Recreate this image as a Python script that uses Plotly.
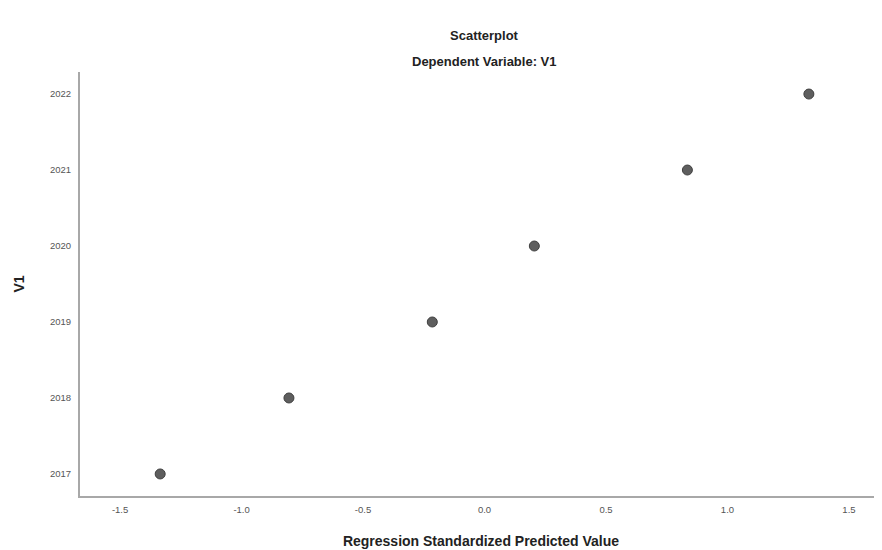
import plotly.graph_objects as go

pred_values = [-1.335, -0.805, -0.215, 0.205, 0.835, 1.335]
v1_values = [2017, 2018, 2019, 2020, 2021, 2022]
x_ticks = [-1.5, -1.0, -0.5, 0.0, 0.5, 1.0, 1.5]
x_tick_labels = ["-1.5", "-1.0", "-0.5", "0.0", "0.5", "1.0", "1.5"]
y_ticks = [2017, 2018, 2019, 2020, 2021, 2022]
y_tick_labels = ["2017", "2018", "2019", "2020", "2021", "2022"]

# page body has an 8px margin, so the figure is slightly smaller than the window
W, H = 874, 542
ML, MR, MT, MB = 72, 0, 64, 54
plot_h = H - MT - MB
plot_w = W - ML - MR

def py(pix_y):
    return 1 + (MT - pix_y) / plot_h

center_x = (476 - ML) / plot_w

fig = go.Figure(go.Scatter(
    x=pred_values, y=v1_values, mode="markers",
    marker=dict(size=10, color="#5e5e5e", line=dict(color="#404040", width=1)),
))

fig.update_layout(
    width=W, height=H,
    margin=dict(l=ML, r=MR, t=MT, b=MB),
    paper_bgcolor="white", plot_bgcolor="white",
    showlegend=False,
    font=dict(family="Liberation Sans, Arial, sans-serif", color="#222"),
    annotations=[
        dict(text="<b>Scatterplot</b>", x=center_x, y=py(27), xref="paper", yref="paper",
             yanchor="middle", showarrow=False, font=dict(size=13, color="#222")),
        dict(text="<b>Dependent Variable: V1</b>", x=center_x, y=py(54), xref="paper", yref="paper",
             yanchor="middle", showarrow=False, font=dict(size=13, color="#222")),
    ],
)

fig.update_xaxes(
    range=[-1.665, 1.636], tickvals=x_ticks, ticktext=x_tick_labels,
    showgrid=False, zeroline=False, showline=True, linecolor="#a8a8a8", linewidth=2,
    ticks="", tickfont=dict(size=9.5, color="#555"), ticklabelstandoff=4,
    title=dict(text="<b>Regression Standardized Predicted Value</b>", font=dict(size=14, color="#222"), standoff=22),
)
fig.update_yaxes(
    range=[2016.71, 2022.29], tickvals=y_ticks, ticktext=y_tick_labels,
    showgrid=False, zeroline=False, showline=True, linecolor="#a8a8a8", linewidth=2,
    ticks="", tickfont=dict(size=9.5, color="#555"), ticklabelstandoff=5,
    title=dict(text="<b>V1</b>", font=dict(size=14, color="#222"), standoff=22),
)

fig.write_html("out.html")
